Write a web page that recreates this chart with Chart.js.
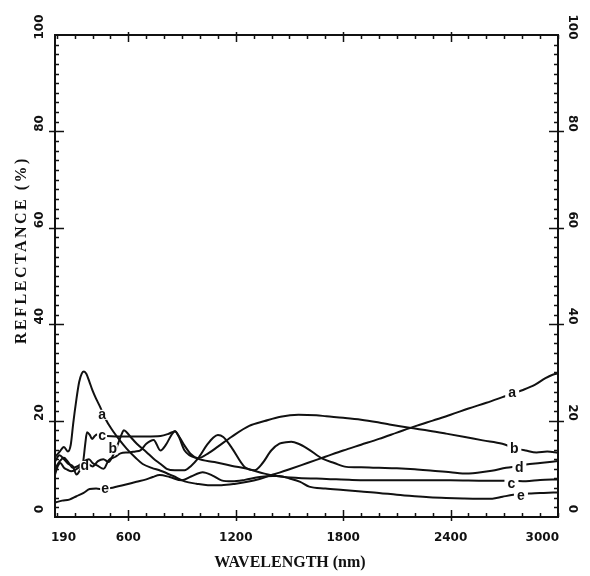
<!DOCTYPE html>
<html>
<head>
<meta charset="utf-8">
<script src="https://cdn.jsdelivr.net/npm/chart.js@4"></script>
<style>
  html, body { margin: 0; padding: 0; background: #fff; }
</style>
</head>
<body>
<canvas id="grafico" width="590" height="576"></canvas>
<script>
// curva a
const aNm  = [190, 215, 240, 262, 278, 292, 308, 325, 340, 352, 365, 380, 400, 420, 440, 470, 505, 550, 590, 640, 680, 730, 780, 850, 914, 980, 1044, 1120, 1200, 1265, 1333, 1400, 1444, 1500, 1600, 1700, 1800, 1900, 2000, 2100, 2200, 2300, 2400, 2500, 2600, 2700, 2800, 2870, 2930, 2970, 3000];
const aVal = [12.4, 13.5, 14.5, 13.6, 15, 19.5, 24, 28, 29.8, 30.2, 29.7, 28.3, 26.2, 24.5, 23, 20.5, 18.3, 16, 14.2, 12.3, 11, 10.2, 9.6, 8.5, 7.4, 6.9, 6.6, 6.6, 6.9, 7.3, 7.9, 8.7, 9.2, 9.9, 11.2, 12.5, 13.8, 15, 16.2, 17.5, 18.8, 20, 21.2, 22.5, 23.7, 25, 26.3, 27.4, 28.8, 29.5, 29.8];

// curva b
const bNm  = [190, 215, 240, 265, 290, 320, 350, 380, 400, 425, 462, 490, 528, 556, 600, 639, 667, 700, 741, 779, 810, 840, 860, 885, 914, 950, 988, 1050, 1100, 1175, 1275, 1361, 1450, 1550, 1650, 1706, 1800, 1900, 2000, 2058, 2170, 2280, 2375, 2480, 2580, 2689, 2750, 2820, 2880, 2940, 3000];
const bVal = [10, 11.5, 12.3, 11.3, 10.2, 10.6, 11.5, 12, 11.2, 10.7, 10, 11.8, 12.5, 13.2, 13.4, 13.6, 13.8, 15.2, 16, 13.8, 15, 17, 17.8, 16.6, 14.8, 13, 12.2, 13.3, 14.6, 16.6, 18.9, 19.9, 20.8, 21.2, 21.1, 20.9, 20.6, 20.2, 19.6, 19.2, 18.5, 17.9, 17.3, 16.6, 15.9, 15.2, 14.4, 13.8, 13.4, 13.6, 13.3];

// curva c
const cNm  = [190, 215, 240, 265, 290, 310, 330, 347, 360, 369, 385, 397, 412, 425, 450, 480, 530, 600, 700, 780, 820, 845, 860, 880, 914, 988, 1081, 1180, 1265, 1360, 1444, 1550, 1706, 1850, 2000, 2200, 2400, 2600, 2740, 2821, 2900, 3000];
const cVal = [11.5, 12.8, 12, 11, 10.5, 8.8, 9.8, 11.4, 15.5, 17.6, 17, 16.2, 16.8, 17.1, 17, 16.8, 16.7, 16.7, 16.7, 16.8, 17.2, 17.6, 17.8, 16.8, 13.8, 12.1, 11.4, 10.6, 10, 9, 8.4, 8.1, 7.9, 7.7, 7.6, 7.6, 7.6, 7.5, 7.5, 7.4, 7.7, 7.8];

// curva d
const dNm  = [190, 205, 220, 240, 260, 280, 300, 320, 345, 370, 400, 430, 460, 490, 510, 530, 550, 565, 574, 590, 615, 647, 700, 741, 780, 814, 860, 914, 950, 988, 1040, 1075, 1100, 1130, 1175, 1249, 1305, 1350, 1398, 1444, 1480, 1510, 1550, 1600, 1684, 1750, 1818, 1900, 2000, 2100, 2200, 2300, 2400, 2467, 2550, 2630, 2710, 2784, 2821, 2900, 3000];
const dVal = [8.8, 10.5, 11.2, 10.2, 9.8, 9.5, 9.7, 10.2, 10.6, 11, 10.5, 11.6, 12, 11.4, 12.5, 14, 16, 17.4, 18, 17.6, 16.5, 15.2, 13.5, 12.1, 11, 10, 9.7, 9.7, 10.6, 12.1, 15, 16.5, 17, 16.6, 14.5, 10.4, 9.7, 11.2, 13.8, 15.2, 15.5, 15.6, 15.2, 14.2, 12.1, 11.2, 10.4, 10.3, 10.2, 10.1, 9.9, 9.6, 9.3, 9, 9.2, 9.6, 10.2, 10.6, 10.9, 11.2, 11.6];

// curva e
const eNm  = [190, 230, 270, 310, 350, 384, 420, 460, 500, 569, 645, 700, 736, 775, 830, 898, 950, 1015, 1070, 1120, 1180, 1250, 1333, 1407, 1444, 1500, 1560, 1610, 1700, 1800, 1900, 2000, 2100, 2200, 2281, 2375, 2470, 2560, 2633, 2690, 2750, 2850, 2920, 3000];
const eVal = [3, 3.4, 3.6, 4.3, 5, 5.8, 5.9, 5.7, 6, 6.6, 7.3, 7.8, 8.3, 8.7, 8.3, 7.6, 8.4, 9.3, 8.6, 7.6, 7.4, 7.7, 8.3, 8.5, 8.5, 8, 7.3, 6.3, 5.9, 5.6, 5.3, 5, 4.6, 4.3, 4.1, 3.95, 3.85, 3.8, 3.8, 4.2, 4.6, 4.9, 5, 5.1];

// ejes
const xEtiquetas = [190, 600, 1200, 1800, 2400, 3000];
const xMayores = [600, 1200, 1800, 2400];
const yEtiquetas = [0, 20, 40, 60, 80, 100];

// letras de las curvas
const letras = ["a", "b", "c", "d", "e"];
const letraIzqNm  = [453, 513, 453, 356, 470];
const letraIzqVal = [21.2, 14.0, 16.8, 10.6, 5.8];
const letraDerNm  = [2744, 2756, 2740, 2784, 2793];
const letraDerVal = [25.7, 14.1, 6.9, 10.2, 4.4];

const tinta = "#111";

function puntos(xs, ys) {
  return xs.map((x, i) => ({ x: x, y: ys[i] }));
}

function serie(xs, ys) {
  return {
    data: puntos(xs, ys),
    borderColor: tinta,
    borderWidth: 2,
    pointRadius: 0,
    cubicInterpolationMode: "monotone",
    fill: false,
  };
}

const marco = {
  id: "marco",
  afterDatasetsDraw(chart) {
    const ctx = chart.ctx;
    const ca = chart.chartArea;
    const x = chart.scales.x;
    const y = chart.scales.y;
    ctx.save();

    // letras sobre las curvas
    ctx.font = 'bold 14px "Liberation Sans"';
    ctx.textAlign = "center";
    ctx.textBaseline = "middle";
    letras.forEach((t, i) => {
      let px = x.getPixelForValue(letraDerNm[i]);
      let py = y.getPixelForValue(letraDerVal[i]);
      ctx.fillStyle = "#fff";
      ctx.fillRect(px - 7, py - 6, 14, 12);
      ctx.fillStyle = tinta;
      ctx.fillText(t, px, py);

      px = x.getPixelForValue(letraIzqNm[i]);
      py = y.getPixelForValue(letraIzqVal[i]);
      ctx.fillStyle = "#fff";
      ctx.fillRect(px - 5, py - 5, 10, 10);
      ctx.fillStyle = tinta;
      ctx.fillText(t, px, py);
    });

    // recuadro
    ctx.strokeStyle = tinta;
    ctx.lineWidth = 2;
    ctx.strokeRect(ca.left, ca.top, ca.right - ca.left, ca.bottom - ca.top);

    // marcas del eje x (abajo y arriba)
    ctx.lineWidth = 1.5;
    ctx.beginPath();
    for (let v = 200; v <= 3000; v += 100) {
      const px = Math.round(x.getPixelForValue(v)) + 0.5;
      const mayor = xMayores.includes(v);
      ctx.moveTo(px, ca.bottom + (mayor ? 4 : 0));
      ctx.lineTo(px, ca.bottom - (mayor ? 7 : 4));
      ctx.moveTo(px, ca.top - (mayor ? 3 : 0));
      ctx.lineTo(px, ca.top + (mayor ? 7 : 4));
    }
    // marcas del eje y (izquierda y derecha)
    for (let v = 2; v < 100; v += 2) {
      const py = Math.round(y.getPixelForValue(v)) + 0.5;
      const mayor = v % 20 === 0;
      ctx.moveTo(ca.left - (mayor ? 6 : 0), py);
      ctx.lineTo(ca.left + (mayor ? 9 : 4), py);
      ctx.moveTo(ca.right + (mayor ? 6 : 0), py);
      ctx.lineTo(ca.right - (mayor ? 9 : 4), py);
    }
    ctx.stroke();

    // numeros del eje x
    ctx.fillStyle = tinta;
    ctx.font = 'bold 12px "DejaVu Sans"';
    ctx.textBaseline = "middle";
    xEtiquetas.forEach((v, i) => {
      let px = x.getPixelForValue(v);
      if (i === 0) {
        ctx.textAlign = "left";
        px -= 4;
      } else if (i === xEtiquetas.length - 1) {
        ctx.textAlign = "right";
        px += 1;
      } else {
        ctx.textAlign = "center";
      }
      ctx.fillText(String(v), px, ca.bottom + 21);
    });

    // numeros del eje y, girados
    ctx.textAlign = "center";
    yEtiquetas.forEach((v) => {
      const py = y.getPixelForValue(v) - 8;
      ctx.save();
      ctx.translate(40, py);
      ctx.rotate(-Math.PI / 2);
      ctx.fillText(String(v), 0, 0);
      ctx.restore();
      ctx.save();
      ctx.translate(ca.right + 14, py);
      ctx.rotate(Math.PI / 2);
      ctx.fillText(String(v), 0, 0);
      ctx.restore();
    });

    // titulos
    ctx.font = 'bold 16px "Liberation Serif"';
    ctx.textAlign = "center";
    ctx.fillText("WAVELENGTH (nm)", 290, ca.bottom + 46);
    ctx.save();
    ctx.translate(22, 250);
    ctx.rotate(-Math.PI / 2);
    ctx.letterSpacing = "2.5px";
    ctx.fillText("REFLECTANCE (%)", 0, 0);
    ctx.restore();

    ctx.restore();
  },
};

const ctx = document.getElementById("grafico").getContext("2d");
const chart = new Chart(ctx, {
  type: "line",
  data: {
    datasets: [
      serie(aNm, aVal),
      serie(bNm, bVal),
      serie(cNm, cVal),
      serie(dNm, dVal),
      serie(eNm, eVal),
    ],
  },
  options: {
    responsive: false,
    animation: false,
    layout: { padding: { left: 55, right: 32, top: 35, bottom: 59 } },
    scales: {
      x: { type: "linear", min: 190, max: 3000, display: false },
      y: { type: "linear", min: 0, max: 100, display: false },
    },
    plugins: {
      legend: { display: false },
      tooltip: { enabled: false },
    },
  },
  plugins: [marco],
});
</script>
</body>
</html>
